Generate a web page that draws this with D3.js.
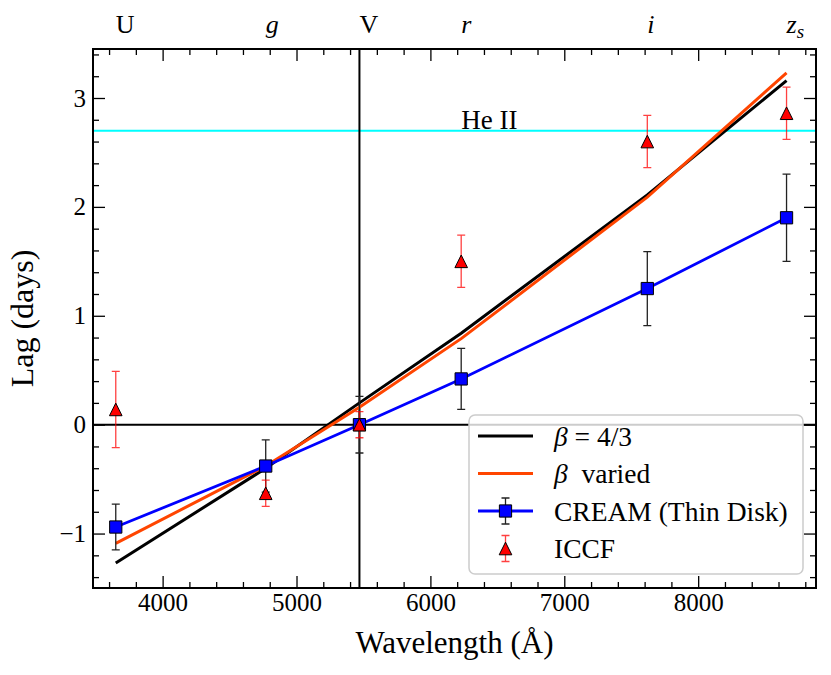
<!DOCTYPE html>
<html>
<head>
<meta charset="utf-8">
<script src="https://cdn.jsdelivr.net/npm/d3@7"></script>
<style>
  body { margin: 0; background: #fff; }
  svg { display: block; }
  text { font-family: "Liberation Serif", "DejaVu Serif", serif; fill: #000; }
</style>
</head>
<body>
<svg id="chart"></svg>
<script>
'use strict';

// band data
var bands = ["U", "g", "V", "r", "i", "zs"];
var wavelength = [3650, 4770, 5470, 6230, 7620, 8660];
var lagBetaFixed = [-1.27, -0.40, 0.20, 0.84, 2.11, 3.16];
var lagBetaVaried = [-1.09, -0.38, 0.16, 0.79, 2.09, 3.23];
var lagCream = [-0.94, -0.38, 0.00, 0.42, 1.25, 1.90];
var errCream = [0.21, 0.24, 0.26, 0.28, 0.34, 0.40];
var lagIccf = [0.14, -0.63, 0.00, 1.50, 2.60, 2.86];
var errIccf = [0.35, 0.12, 0.12, 0.24, 0.24, 0.24];
var heIILag = 2.7;
var refWavelength = 5470;

var xTicks = [4000, 5000, 6000, 7000, 8000];
var yTicks = [-1, 0, 1, 2, 3];
var xTickLabels = ["4000", "5000", "6000", "7000", "8000"];
var yTickLabels = ["\u22121", "0", "1", "2", "3"];

function draw() {
    var width = 831,
        height = 675,
        left = 93, right = 816, top = 49, bottom = 588;

    var x = d3.scaleLinear().domain([3480, 8880]).range([left, right]);
    var y = d3.scaleLinear().domain([-1.5, 3.45]).range([bottom, top]);

    var svg = d3.select("#chart")
                .attr("width", width)
                .attr("height", height);

    svg.append("defs").append("clipPath").attr("id", "plot")
        .append("rect")
            .attr("x", left).attr("y", top)
            .attr("width", right - left).attr("height", bottom - top);

    var plot = svg.append("g").attr("clip-path", "url(#plot)");

    // He II line and reference lines
    plot.append("line")
        .attr("x1", left).attr("x2", right)
        .attr("y1", y(heIILag)).attr("y2", y(heIILag))
        .attr("stroke", "#00ffff").attr("stroke-width", 2);

    plot.append("line")
        .attr("x1", left).attr("x2", right)
        .attr("y1", y(0)).attr("y2", y(0))
        .attr("stroke", "#000").attr("stroke-width", 2);

    plot.append("line")
        .attr("x1", x(refWavelength)).attr("x2", x(refWavelength))
        .attr("y1", top).attr("y2", bottom)
        .attr("stroke", "#000").attr("stroke-width", 2);

    svg.append("text")
        .attr("x", x(wavelength[3]))
        .attr("y", y(heIILag + 0.015))
        .attr("font-size", 27)
        .text("He II");

    var line = function(values) {
        return d3.line()
                .x(function(d, i) { return x(wavelength[i]); })
                .y(function(d) { return y(d); })(values);
    };

    plot.append("path")
        .attr("d", line(lagBetaFixed))
        .attr("fill", "none").attr("stroke", "#000").attr("stroke-width", 3);

    plot.append("path")
        .attr("d", line(lagBetaVaried))
        .attr("fill", "none").attr("stroke", "#ff4500").attr("stroke-width", 3);

    // CREAM error bars, line and squares
    var cap = 4;
    var cream = plot.append("g");
    wavelength.forEach(function(w, i) {
        var cx = x(w), y1 = y(lagCream[i] + errCream[i]), y2 = y(lagCream[i] - errCream[i]);
        cream.append("path")
            .attr("d", "M" + cx + "," + y1 + "V" + y2 +
                       "M" + (cx - cap) + "," + y1 + "H" + (cx + cap) +
                       "M" + (cx - cap) + "," + y2 + "H" + (cx + cap))
            .attr("fill", "none").attr("stroke", "#222").attr("stroke-width", 1.3);
    });

    cream.append("path")
        .attr("d", line(lagCream))
        .attr("fill", "none").attr("stroke", "#0000ff").attr("stroke-width", 2.8);

    var square = d3.symbol().type(d3.symbolSquare).size(150);
    cream.selectAll(".sq")
            .data(lagCream)
        .enter().append("path")
            .attr("class", "sq")
            .attr("d", square)
            .attr("transform", function(d, i) { return "translate(" + x(wavelength[i]) + "," + y(d) + ")"; })
            .attr("fill", "#0000ff").attr("stroke", "#000").attr("stroke-width", 1);

    // ICCF
    var tri = "M0,-6.3L6.3,6.3L-6.3,6.3Z";
    var iccf = plot.append("g");
    wavelength.forEach(function(w, i) {
        var cx = x(w), y1 = y(lagIccf[i] + errIccf[i]), y2 = y(lagIccf[i] - errIccf[i]);
        iccf.append("path")
            .attr("d", "M" + cx + "," + y1 + "V" + y2 +
                       "M" + (cx - cap) + "," + y1 + "H" + (cx + cap) +
                       "M" + (cx - cap) + "," + y2 + "H" + (cx + cap))
            .attr("fill", "none").attr("stroke", "#ff0000").attr("stroke-opacity", 0.75).attr("stroke-width", 1.3);
    });
    iccf.selectAll(".tri")
            .data(lagIccf)
        .enter().append("path")
            .attr("class", "tri")
            .attr("d", tri)
            .attr("transform", function(d, i) { return "translate(" + x(wavelength[i]) + "," + y(d) + ")"; })
            .attr("fill", "#ff0000").attr("stroke", "#000").attr("stroke-width", 1);

    // axes, ticks inward on all sides
    var minorX = d3.range(3600, 8801, 200).filter(function(v) { return v % 1000 !== 0; });
    var minorY = d3.range(-14, 35, 2).map(function(v) { return v / 10; })
                    .filter(function(v) { return Math.abs(v - Math.round(v)) > 1e-6; });

    function styleAxis(g) {
        g.select(".domain").remove();
        g.selectAll(".tick line").attr("stroke", "#000").attr("stroke-width", 1.3);
        g.selectAll("text").attr("font-size", 25);
    }

    svg.append("g").attr("transform", "translate(0," + bottom + ")")
        .call(d3.axisBottom(x).tickValues(xTicks).tickSize(-12).tickPadding(5)
                .tickFormat(function(d, i) { return xTickLabels[i]; }))
        .call(styleAxis);
    svg.append("g").attr("transform", "translate(0," + bottom + ")")
        .call(d3.axisBottom(x).tickValues(minorX).tickSize(-6).tickFormat(""))
        .call(styleAxis);
    svg.append("g").attr("transform", "translate(0," + top + ")")
        .call(d3.axisTop(x).tickValues(xTicks).tickSize(-12).tickFormat(""))
        .call(styleAxis);
    svg.append("g").attr("transform", "translate(0," + top + ")")
        .call(d3.axisTop(x).tickValues(minorX).tickSize(-6).tickFormat(""))
        .call(styleAxis);

    svg.append("g").attr("transform", "translate(" + left + ",0)")
        .call(d3.axisLeft(y).tickValues(yTicks).tickSize(-12).tickPadding(7)
                .tickFormat(function(d, i) { return yTickLabels[i]; }))
        .call(styleAxis);
    svg.append("g").attr("transform", "translate(" + left + ",0)")
        .call(d3.axisLeft(y).tickValues(minorY).tickSize(-6).tickFormat(""))
        .call(styleAxis);
    svg.append("g").attr("transform", "translate(" + right + ",0)")
        .call(d3.axisRight(y).tickValues(yTicks).tickSize(-12).tickFormat(""))
        .call(styleAxis);
    svg.append("g").attr("transform", "translate(" + right + ",0)")
        .call(d3.axisRight(y).tickValues(minorY).tickSize(-6).tickFormat(""))
        .call(styleAxis);

    svg.append("rect")
        .attr("x", left).attr("y", top)
        .attr("width", right - left).attr("height", bottom - top)
        .attr("fill", "none").attr("stroke", "#000").attr("stroke-width", 2);

    // band names along the top
    var bandText = svg.append("g").attr("font-size", 26);
    bands.forEach(function(b, i) {
        var t = bandText.append("text")
                    .attr("x", x(wavelength[i]))
                    .attr("y", 33);
        if (b === "zs") {
            t.append("tspan").attr("font-style", "italic").text("z");
            t.append("tspan").attr("font-style", "italic").attr("font-size", 19).attr("dy", 5).text("s");
        } else {
            t.attr("font-style", (b === "U" || b === "V") ? "normal" : "italic").text(b);
        }
    });

    // axis titles
    svg.append("text")
        .attr("x", (left + right) / 2).attr("y", 653)
        .attr("text-anchor", "middle").attr("font-size", 31)
        .text("Wavelength (\u00c5)");

    svg.append("text")
        .attr("transform", "translate(33," + (top + bottom) / 2 + ") rotate(-90)")
        .attr("text-anchor", "middle").attr("font-size", 32)
        .text("Lag (days)");

    // legend
    var lg = svg.append("g");
    lg.append("rect")
        .attr("x", 469).attr("y", 415).attr("width", 334).attr("height", 159).attr("rx", 6)
        .attr("fill", "#fff").attr("fill-opacity", 0.8)
        .attr("stroke", "#cccccc").attr("stroke-width", 1.5);

    var rows = [436, 473.5, 511, 548.5];
    var hx1 = 478, hx2 = 533, hm = (hx1 + hx2) / 2, tx = 554, fs = 27.5;

    lg.append("line").attr("x1", hx1).attr("x2", hx2).attr("y1", rows[0]).attr("y2", rows[0])
        .attr("stroke", "#000").attr("stroke-width", 3);
    lg.append("line").attr("x1", hx1).attr("x2", hx2).attr("y1", rows[1]).attr("y2", rows[1])
        .attr("stroke", "#ff4500").attr("stroke-width", 3);

    lg.append("path")
        .attr("d", "M" + hm + "," + (rows[2] - 13) + "V" + (rows[2] + 13) +
                   "M" + (hm - cap) + "," + (rows[2] - 13) + "H" + (hm + cap) +
                   "M" + (hm - cap) + "," + (rows[2] + 13) + "H" + (hm + cap))
        .attr("fill", "none").attr("stroke", "#222").attr("stroke-width", 1.3);
    lg.append("line").attr("x1", hx1).attr("x2", hx2).attr("y1", rows[2]).attr("y2", rows[2])
        .attr("stroke", "#0000ff").attr("stroke-width", 2.8);
    lg.append("path").attr("d", square).attr("transform", "translate(" + hm + "," + rows[2] + ")")
        .attr("fill", "#0000ff").attr("stroke", "#000").attr("stroke-width", 1);

    lg.append("path")
        .attr("d", "M" + hm + "," + (rows[3] - 13) + "V" + (rows[3] + 13) +
                   "M" + (hm - cap) + "," + (rows[3] - 13) + "H" + (hm + cap) +
                   "M" + (hm - cap) + "," + (rows[3] + 13) + "H" + (hm + cap))
        .attr("fill", "none").attr("stroke", "#ff0000").attr("stroke-opacity", 0.75).attr("stroke-width", 1.3);
    lg.append("path").attr("d", tri).attr("transform", "translate(" + hm + "," + rows[3] + ")")
        .attr("fill", "#ff0000").attr("stroke", "#000").attr("stroke-width", 1);

    var t0 = lg.append("text").attr("x", tx).attr("y", rows[0]).attr("dy", "0.35em").attr("font-size", fs);
    t0.append("tspan").attr("font-style", "italic").text("\u03b2");
    t0.append("tspan").text(" = 4/3");

    var t1 = lg.append("text").attr("x", tx).attr("y", rows[1]).attr("dy", "0.35em").attr("font-size", fs);
    t1.append("tspan").attr("font-style", "italic").text("\u03b2");
    t1.append("tspan").text("\u00a0 varied");

    lg.append("text").attr("x", tx).attr("y", rows[2]).attr("dy", "0.35em").attr("font-size", fs)
        .text("CREAM (Thin Disk)");
    lg.append("text").attr("x", tx).attr("y", rows[3]).attr("dy", "0.35em").attr("font-size", fs)
        .text("ICCF");
}

draw();
</script>
</body>
</html>
